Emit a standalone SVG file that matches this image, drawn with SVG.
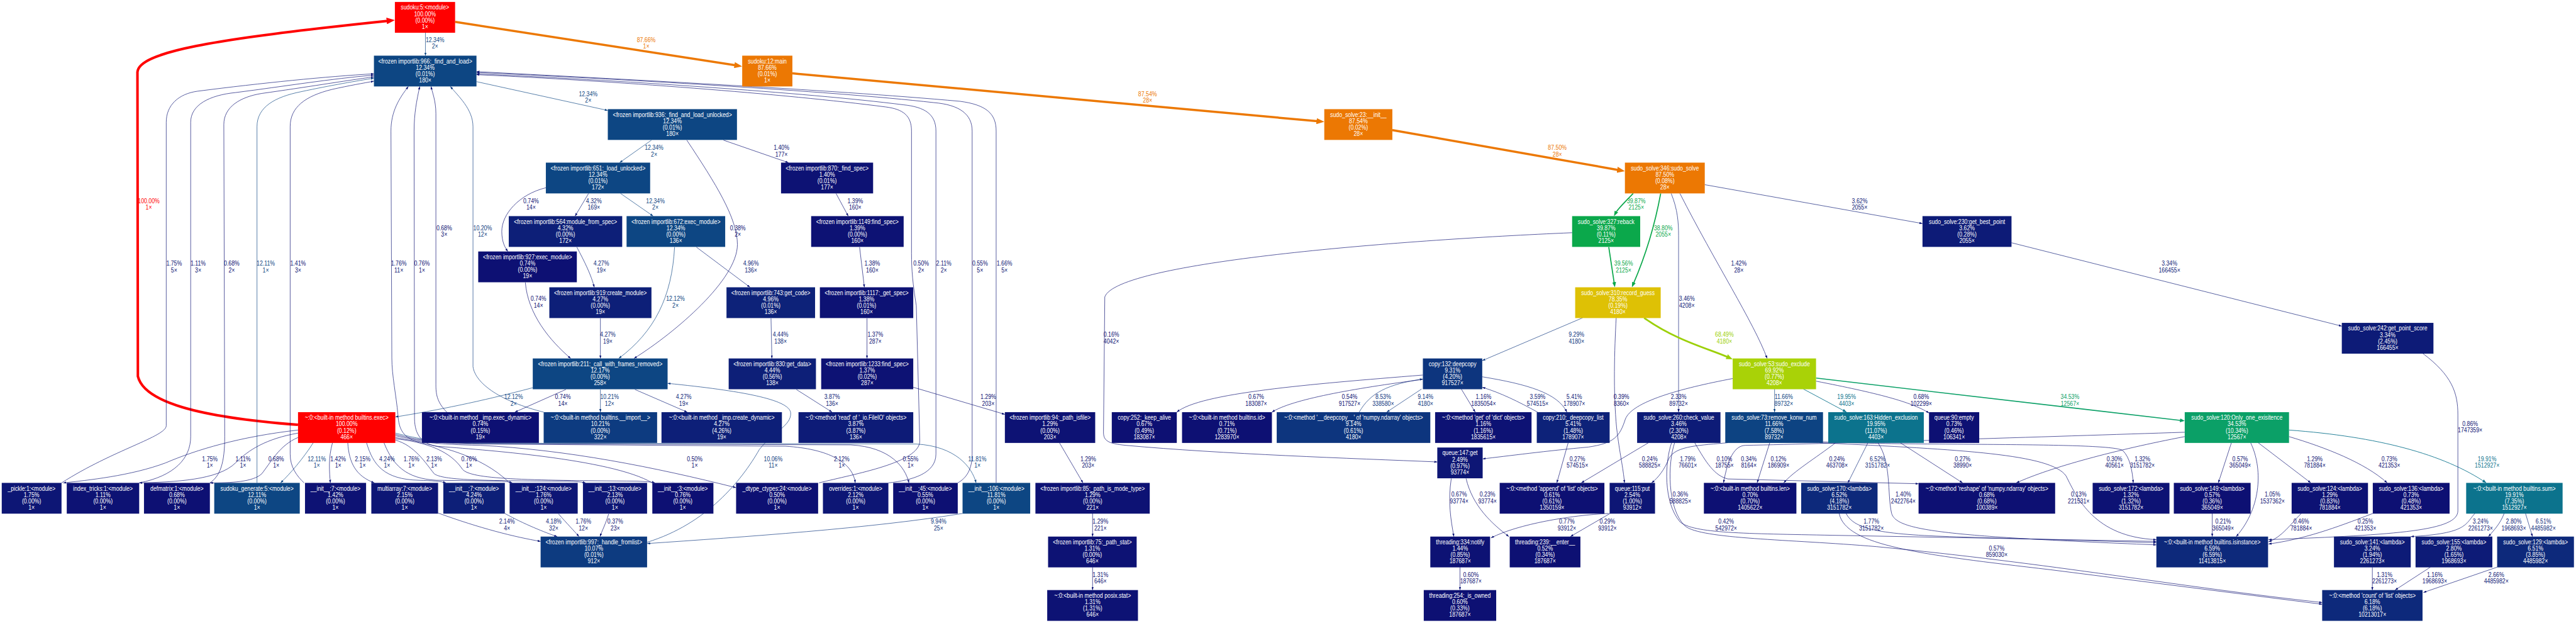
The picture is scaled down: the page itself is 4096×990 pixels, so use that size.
<svg xmlns="http://www.w3.org/2000/svg" width="4096" height="990" viewBox="0 0 4096 990">
<style>
text{font-family:"Liberation Sans",Arial,Helvetica,sans-serif;font-size:15.5px;text-anchor:middle;transform-box:fill-box;transform-origin:50% 50%;transform:scaleX(0.815)}
.n text{fill:#ffffff}
.f0{fill:#0d1073}.f1{fill:#0d1274}.f2{fill:#0d1675}.f3{fill:#0d1b77}.f4{fill:#0d1f78}.f5{fill:#0d2279}.f6{fill:#0d297b}.f9{fill:#0d357e}.f10{fill:#0d3b80}.f11{fill:#0d4382}.f12{fill:#0d4683}.f20{fill:#0c738d}.f34{fill:#0ba067}.f39{fill:#0ba84b}.f69{fill:#a9d207}.f78{fill:#dec105}.f87{fill:#ec7803}.f100{fill:#ff0000}
.e path{fill:none;stroke-width:1;marker-end:url(#md)}
.x0 path{stroke:#0d1073}.x0 text{fill:#0d1073}
.x1 path{stroke:#0d1274}.x1 text{fill:#0d1274}
.x2 path{stroke:#0d1675}.x2 text{fill:#0d1675}
.x3 path{stroke:#0d1b77}.x3 text{fill:#0d1b77}
.x4 path{stroke:#0d1f78}.x4 text{fill:#0d1f78}
.x5 path{stroke:#0d2279}.x5 text{fill:#0d2279}
.x6 path{stroke:#0d297b}.x6 text{fill:#0d297b}
.x9 path{stroke:#0d357e;marker-end:url(#m9)}.x9 text{fill:#0d357e}
.x10 path{stroke:#0d3b80;marker-end:url(#m9)}.x10 text{fill:#0d3b80}
.x11 path{stroke:#0d4382;marker-end:url(#m12)}.x11 text{fill:#0d4382}
.x12 path{stroke:#0d4683;marker-end:url(#m12)}.x12 text{fill:#0d4683}
.x20 path{stroke:#0c738d;stroke-width:1.3;marker-end:url(#m20)}.x20 text{fill:#0c738d}
.x34 path{stroke:#0ba067;stroke-width:2.2;marker-end:url(#m34)}.x34 text{fill:#0ba067}
.x39 path{stroke:#0ba84b;stroke-width:2.5;marker-end:url(#m39)}.x39 text{fill:#0ba84b}
.x68 path{stroke:#9cd007;stroke-width:4;marker-end:url(#m68)}.x68 text{fill:#9cd007}
.x87 path{stroke:#ec7803;stroke-width:5;marker-end:url(#m87)}.x87 text{fill:#ec7803}
.x100 path{stroke:#ff0000;stroke-width:5.8;marker-end:url(#m100)}.x100 text{fill:#ff0000}
</style>
<defs>
<marker id="md" viewBox="0 0 10 10" refX="10" refY="5" markerUnits="userSpaceOnUse" markerWidth="7" markerHeight="5" orient="auto" preserveAspectRatio="none"><path d="M0,0L10,5L0,10z" fill="#0d1575"/></marker>
<marker id="m9" viewBox="0 0 10 10" refX="10" refY="5" markerUnits="userSpaceOnUse" markerWidth="7" markerHeight="5" orient="auto" preserveAspectRatio="none"><path d="M0,0L10,5L0,10z" fill="#0d387f"/></marker>
<marker id="m12" viewBox="0 0 10 10" refX="10" refY="5" markerUnits="userSpaceOnUse" markerWidth="7" markerHeight="5" orient="auto" preserveAspectRatio="none"><path d="M0,0L10,5L0,10z" fill="#0d4683"/></marker>
<marker id="m20" viewBox="0 0 10 10" refX="10" refY="5" markerUnits="userSpaceOnUse" markerWidth="9" markerHeight="7" orient="auto" preserveAspectRatio="none"><path d="M0,0L10,5L0,10z" fill="#0c738d"/></marker>
<marker id="m34" viewBox="0 0 10 10" refX="3" refY="5" markerUnits="userSpaceOnUse" markerWidth="11" markerHeight="9" orient="auto" preserveAspectRatio="none"><path d="M0,0L10,5L0,10z" fill="#0ba067"/></marker>
<marker id="m39" viewBox="0 0 10 10" refX="3" refY="5" markerUnits="userSpaceOnUse" markerWidth="12" markerHeight="9" orient="auto" preserveAspectRatio="none"><path d="M0,0L10,5L0,10z" fill="#0ba84b"/></marker>
<marker id="m68" viewBox="0 0 10 10" refX="3" refY="5" markerUnits="userSpaceOnUse" markerWidth="15" markerHeight="12" orient="auto" preserveAspectRatio="none"><path d="M0,0L10,5L0,10z" fill="#9cd007"/></marker>
<marker id="m87" viewBox="0 0 10 10" refX="3" refY="5" markerUnits="userSpaceOnUse" markerWidth="18" markerHeight="14" orient="auto" preserveAspectRatio="none"><path d="M0,0L10,5L0,10z" fill="#ec7803"/></marker>
<marker id="m100" viewBox="0 0 10 10" refX="3" refY="5" markerUnits="userSpaceOnUse" markerWidth="19" markerHeight="15" orient="auto" preserveAspectRatio="none"><path d="M0,0L10,5L0,10z" fill="#ff0000"/></marker>
</defs>
<rect width="4096" height="990" fill="#ffffff"/>
<g transform="scale(0.6938)">
<g id="edges" class="e">
<g class="x12"><path d="M975,75 L975,127.5"/><text x="997" y="96.5">12.34%<tspan x="997" dy="15">2×</tspan></text></g>
<g class="x87"><path d="M1043,50 L1688.5,150"/><text x="1481" y="96.5">87.66%<tspan x="1481" dy="15">1×</tspan></text></g>
<g class="x87"><path d="M1816,168 L3022.5,277.9"/><text x="2630" y="220.5">87.54%<tspan x="2630" dy="15">28×</tspan></text></g>
<g class="x87"><path d="M3191,298 L3711.6,389.8"/><text x="3569" y="343.5">87.50%<tspan x="3569" dy="15">28×</tspan></text></g>
<g class="x39"><path d="M3743,443 C3725,462 3708,478 3702.9,487.6"/><text x="3750" y="465.5">39.87%<tspan x="3750" dy="15">2125×</tspan></text></g>
<g class="x39"><path d="M3806,443 C3790,530 3765,600 3743.3,650.3"/><text x="3812" y="527.5">38.80%<tspan x="3812" dy="15">2055×</tspan></text></g>
<g class="x39"><path d="M3687,566 L3699.7,649.7"/><text x="3721" y="608.5">39.56%<tspan x="3721" dy="15">2125×</tspan></text></g>
<g class="x3"><path d="M3830,443 C3845,480 3847,510 3847,540 L3847,944"/><text x="3866" y="689.5">3.46%<tspan x="3866" dy="15">4208×</tspan></text></g>
<g class="x3"><path d="M3907,423 L4406,512"/><text x="4262" y="465.5">3.62%<tspan x="4262" dy="15">2055×</tspan></text></g>
<g class="x1"><path d="M3850,443 C3930,600 4020,740 4050,821"/><text x="3985" y="608.5">1.42%<tspan x="3985" dy="15">28×</tspan></text></g>
<g class="x3"><path d="M4610,556 L5367,747"/><text x="4972" y="608.5">3.34%<tspan x="4972" dy="15">166455×</tspan></text></g>
<g class="x68"><path d="M3768,728 C3840,780 3920,800 3961.4,818.7"/><text x="3952" y="771.5">68.49%<tspan x="3952" dy="15">4180×</tspan></text></g>
<g class="x9"><path d="M3627,728 L3397,826"/><text x="3613" y="771.5">9.29%<tspan x="3613" dy="15">4180×</tspan></text></g>
<g class="x0"><path d="M3704,728 C3700,800 3697,900 3705,980 C3712,1040 3720,1070 3723,1106"/><text x="3716" y="914.5">0.39%<tspan x="3716" dy="15">8360×</tspan></text></g>
<g class="x2"><path d="M3971,867 C3850,890 3740,920 3725,960 C3712,1000 3700,1015 3640,1024 C3550,1032 3450,1045 3398,1051"/><text x="3847" y="914.5">2.33%<tspan x="3847" dy="15">89732×</tspan></text></g>
<g class="x0"><path d="M3603,533 C3200,550 2560,600 2532,680 L2529,990 C2529,1010 2540,1016 2580,1020 C2800,1040 3100,1050 3294,1058"/><text x="2547" y="771.5">0.16%<tspan x="2547" dy="15">4042×</tspan></text></g>
<g class="x0"><path d="M3778,1014 L3624,1106"/><text x="3781" y="1056.5">0.24%<tspan x="3781" dy="15">588825×</tspan></text></g>
<g class="x0"><path d="M3831,1014 C3815,1060 3812,1150 3850,1195 C3880,1222 4000,1222 4200,1226 L4942,1240"/><text x="3851" y="1137.5">0.36%<tspan x="3851" dy="15">588825×</tspan></text></g>
<g class="x0"><path d="M3838,1014 C3822,1060 3820,1165 3862,1205 C3900,1235 4100,1235 4300,1252 C4700,1290 5000,1345 5322,1380"/><text x="3956" y="1199.5">0.42%<tspan x="3956" dy="15">542972×</tspan></text></g>
<g class="x0"><path d="M3884,1014 C3910,1060 3930,1090 3960,1097 L4397,1108"/><text x="3952" y="1056.5">0.10%<tspan x="3952" dy="15">18755×</tspan></text></g>
<g class="x2"><path d="M3960,1014 C3900,1020 3840,1020 3825,1050 C3815,1075 3800,1095 3785,1106"/><text x="3868" y="1056.5">1.79%<tspan x="3868" dy="15">76601×</tspan></text></g>
<g class="x0"><path d="M5007,990 C4700,1000 4200,1016 4000,1020 C3975,1021 3960,1050 3950,1106"/><text x="4008" y="1056.5">0.34%<tspan x="4008" dy="15">8164×</tspan></text></g>
<g class="x0"><path d="M4056,1014 L4027,1106"/><text x="4076" y="1056.5">0.12%<tspan x="4076" dy="15">186909×</tspan></text></g>
<g class="x0"><path d="M4207,1014 C4160,1050 4110,1080 4088,1106"/><text x="4210" y="1056.5">0.24%<tspan x="4210" dy="15">463708×</tspan></text></g>
<g class="x6"><path d="M4281,1014 L4235,1106"/><text x="4303" y="1056.5">6.52%<tspan x="4303" dy="15">3151782×</tspan></text></g>
<g class="x0"><path d="M4355,1014 L4498,1106"/><text x="4498" y="1056.5">0.27%<tspan x="4498" dy="15">38990×</tspan></text></g>
<g class="x0"><path d="M5007,1000 C4850,1030 4700,1070 4621,1106"/><text x="4846" y="1056.5">0.30%<tspan x="4846" dy="15">40561×</tspan></text></g>
<g class="x1"><path d="M4178,1012 C4400,1022 4840,1012 4865,1032 C4882,1048 4887,1080 4889,1106"/><text x="4910" y="1056.5">1.32%<tspan x="4910" dy="15">3151782×</tspan></text></g>
<g class="x1"><path d="M4304,1014 C4335,1060 4325,1130 4335,1175 C4345,1215 4450,1228 4942,1248"/><text x="4362" y="1137.5">1.40%<tspan x="4362" dy="15">2422764×</tspan></text></g>
<g class="x0"><path d="M4170,1014 C4500,1030 4700,1040 4735,1090 C4760,1140 4800,1230 4942,1236"/><text x="4764" y="1137.5">0.13%<tspan x="4764" dy="15">221531×</tspan></text></g>
<g class="x2"><path d="M4231,1176 C4250,1215 4320,1225 4500,1230 L4942,1243"/><text x="4289" y="1199.5">1.77%<tspan x="4289" dy="15">3151782×</tspan></text></g>
<g class="x0"><path d="M4215,1176 C4230,1250 4400,1270 4700,1305 L5322,1384"/><text x="4576" y="1260.5">0.57%<tspan x="4576" dy="15">859030×</tspan></text></g>
<g class="x0"><path d="M5114,1014 L5084,1106"/><text x="5134" y="1056.5">0.57%<tspan x="5134" dy="15">365049×</tspan></text></g>
<g class="x1"><path d="M5158,1014 C5185,1070 5185,1160 5125,1229"/><text x="5208" y="1137.5">1.05%<tspan x="5208" dy="15">1537362×</tspan></text></g>
<g class="x1"><path d="M5174,1013 L5296,1106"/><text x="5305" y="1056.5">1.29%<tspan x="5305" dy="15">781884×</tspan></text></g>
<g class="x0"><path d="M5246,1000 C5330,1025 5420,1060 5471,1106"/><text x="5476" y="1056.5">0.73%<tspan x="5476" dy="15">421353×</tspan></text></g>
<g class="x20"><path d="M5246,985 C5450,1000 5600,1040 5698,1106"/><text x="5700" y="1056.5">19.91%<tspan x="5700" dy="15">1512927×</tspan></text></g>
<g class="x34"><path d="M4162,866 L4999.4,963.1"/><text x="4744" y="914.5">34.53%<tspan x="4744" dy="15">12567×</tspan></text></g>
<g class="x11"><path d="M4067,891 L4067,944"/><text x="4088" y="914.5">11.66%<tspan x="4088" dy="15">89732×</tspan></text></g>
<g class="x20"><path d="M4133,891 L4232,944"/><text x="4232" y="914.5">19.95%<tspan x="4232" dy="15">4403×</tspan></text></g>
<g class="x0"><path d="M4162,873 C4300,900 4380,920 4421,946"/><text x="4403" y="914.5">0.68%<tspan x="4403" dy="15">102299×</tspan></text></g>
<g class="x0"><path d="M5070,1176 L5070,1229"/><text x="5095" y="1199.5">0.21%<tspan x="5095" dy="15">365049×</tspan></text></g>
<g class="x0"><path d="M5274,1176 C5250,1200 5230,1230 5199,1241"/><text x="5274" y="1199.5">0.46%<tspan x="5274" dy="15">781884×</tspan></text></g>
<g class="x0"><path d="M5438,1176 C5350,1210 5280,1235 5199,1246"/><text x="5421" y="1199.5">0.25%<tspan x="5421" dy="15">421353×</tspan></text></g>
<g class="x1"><path d="M5552,809 C5620,860 5633,900 5633,950 L5633,1170 C5633,1215 5500,1225 5199,1236"/><text x="5661" y="975.5">0.86%<tspan x="5661" dy="15">1747359×</tspan></text></g>
<g class="x3"><path d="M5672,1176 C5650,1200 5655,1222 5525,1229"/><text x="5685" y="1199.5">3.24%<tspan x="5685" dy="15">2261273×</tspan></text></g>
<g class="x3"><path d="M5739,1176 C5730,1200 5715,1215 5703,1229"/><text x="5761" y="1199.5">2.80%<tspan x="5761" dy="15">1968693×</tspan></text></g>
<g class="x6"><path d="M5788,1176 L5804,1229"/><text x="5829" y="1199.5">6.51%<tspan x="5829" dy="15">4485982×</tspan></text></g>
<g class="x1"><path d="M5437,1299 L5437,1351.5"/><text x="5465" y="1321.5">1.31%<tspan x="5465" dy="15">2261273×</tspan></text></g>
<g class="x1"><path d="M5570,1299 L5489,1351.5"/><text x="5580" y="1321.5">1.16%<tspan x="5580" dy="15">1968693×</tspan></text></g>
<g class="x2"><path d="M5723,1299 L5554,1357"/><text x="5721" y="1321.5">2.66%<tspan x="5721" dy="15">4485982×</tspan></text></g>
<g class="x9"><path d="M3258,891 L3178,944"/><text x="3267" y="914.5">9.14%<tspan x="3267" dy="15">4180×</tspan></text></g>
<g class="x9"><path d="M3115,944 C3140,900 3180,880 3261,868"/><text x="3170" y="914.5">8.53%<tspan x="3170" dy="15">338580×</tspan></text></g>
<g class="x0"><path d="M3261,859 C3000,880 2750,900 2697,944"/><text x="2879" y="914.5">0.67%<tspan x="2879" dy="15">183087×</tspan></text></g>
<g class="x0"><path d="M3261,869 C3100,890 2960,915 2915,944"/><text x="3093" y="914.5">0.54%<tspan x="3093" dy="15">917527×</tspan></text></g>
<g class="x1"><path d="M3349,891 L3381,944"/><text x="3400" y="914.5">1.16%<tspan x="3400" dy="15">1835054×</tspan></text></g>
<g class="x5"><path d="M3397,863 C3500,880 3570,900 3591,944"/><text x="3608" y="914.5">5.41%<tspan x="3608" dy="15">178907×</tspan></text></g>
<g class="x3"><path d="M3524,944 C3480,920 3440,900 3397,887"/><text x="3524" y="914.5">3.59%<tspan x="3524" dy="15">574515×</tspan></text></g>
<g class="x0"><path d="M3594,1014 L3568,1106"/><text x="3615" y="1056.5">0.27%<tspan x="3615" dy="15">574515×</tspan></text></g>
<g class="x0"><path d="M3326,1096 C3318,1150 3325,1190 3332,1229"/><text x="3344" y="1137.5">0.67%<tspan x="3344" dy="15">93774×</tspan></text></g>
<g class="x0"><path d="M3360,1096 C3375,1160 3420,1200 3458,1229"/><text x="3409" y="1137.5">0.23%<tspan x="3409" dy="15">93774×</tspan></text></g>
<g class="x0"><path d="M3687,1176 C3600,1180 3480,1200 3417,1232"/><text x="3591" y="1199.5">0.77%<tspan x="3591" dy="15">93912×</tspan></text></g>
<g class="x0"><path d="M3690,1176 L3599,1229"/><text x="3684" y="1199.5">0.29%<tspan x="3684" dy="15">93912×</tspan></text></g>
<g class="x0"><path d="M3346,1299 L3346,1351.5"/><text x="3371" y="1321.5">0.60%<tspan x="3371" dy="15">187687×</tspan></text></g>
<g class="x12"><path d="M1092,187 L1393,253"/><text x="1348" y="220.5">12.34%<tspan x="1348" dy="15">2×</tspan></text></g>
<g class="x12"><path d="M1493,321 L1420,372.5"/><text x="1499" y="343.5">12.34%<tspan x="1499" dy="15">2×</tspan></text></g>
<g class="x1"><path d="M1658,321 L1807,372.5"/><text x="1791" y="343.5">1.40%<tspan x="1791" dy="15">177×</tspan></text></g>
<g class="x0"><path d="M1574,321 C1640,420 1690,500 1690,560 C1690,640 1550,760 1453,821"/><text x="1691" y="527.5">0.38%<tspan x="1691" dy="15">2×</tspan></text></g>
<g class="x0"><path d="M1251,430 C1190,445 1150,490 1150,530 C1150,555 1158,568 1164,576"/><text x="1217" y="465.5">0.74%<tspan x="1217" dy="15">14×</tspan></text></g>
<g class="x4"><path d="M1349,443 L1318,495"/><text x="1361" y="465.5">4.32%<tspan x="1361" dy="15">169×</tspan></text></g>
<g class="x12"><path d="M1422,443 L1497,495"/><text x="1502" y="465.5">12.34%<tspan x="1502" dy="15">2×</tspan></text></g>
<g class="x1"><path d="M1916,443 L1944,495"/><text x="1960" y="465.5">1.39%<tspan x="1960" dy="15">160×</tspan></text></g>
<g class="x4"><path d="M1322,566 C1340,600 1355,630 1362,658"/><text x="1378" y="608.5">4.27%<tspan x="1378" dy="15">19×</tspan></text></g>
<g class="x5"><path d="M1596,566 L1719,658"/><text x="1721" y="608.5">4.96%<tspan x="1721" dy="15">136×</tspan></text></g>
<g class="x12"><path d="M1546,566 C1540,680 1500,760 1418,821"/><text x="1548" y="689.5">12.12%<tspan x="1548" dy="15">2×</tspan></text></g>
<g class="x0"><path d="M1204,647 C1210,720 1260,780 1308,821"/><text x="1234" y="689.5">0.74%<tspan x="1234" dy="15">14×</tspan></text></g>
<g class="x4"><path d="M1376,729 L1376,821"/><text x="1393" y="771.5">4.27%<tspan x="1393" dy="15">19×</tspan></text></g>
<g class="x1"><path d="M1970,566 L1981,658"/><text x="1999" y="608.5">1.38%<tspan x="1999" dy="15">160×</tspan></text></g>
<g class="x4"><path d="M1767,729 L1769,821"/><text x="1789" y="771.5">4.44%<tspan x="1789" dy="15">138×</tspan></text></g>
<g class="x1"><path d="M1987,729 L1987,821"/><text x="2006" y="771.5">1.37%<tspan x="2006" dy="15">287×</tspan></text></g>
<g class="x12"><path d="M1221,888 C1100,920 1000,940 906,955"/><text x="1177" y="914.5">12.12%<tspan x="1177" dy="15">2×</tspan></text></g>
<g class="x0"><path d="M1297,892 L1180,944"/><text x="1290" y="914.5">0.74%<tspan x="1290" dy="15">14×</tspan></text></g>
<g class="x10"><path d="M1376,892 L1376,944"/><text x="1397" y="914.5">10.21%<tspan x="1397" dy="15">12×</tspan></text></g>
<g class="x4"><path d="M1455,892 L1575,944"/><text x="1567" y="914.5">4.27%<tspan x="1567" dy="15">19×</tspan></text></g>
<g class="x3"><path d="M1825,892 L1907,944"/><text x="1907" y="914.5">3.87%<tspan x="1907" dy="15">136×</tspan></text></g>
<g class="x1"><path d="M2093,887 L2303,949"/><text x="2265" y="914.5">1.29%<tspan x="2265" dy="15">203×</tspan></text></g>
<g class="x1"><path d="M2428,1014 L2482,1106"/><text x="2494" y="1056.5">1.29%<tspan x="2494" dy="15">203×</tspan></text></g>
<g class="x1"><path d="M2504,1176 L2504,1229"/><text x="2522" y="1199.5">1.29%<tspan x="2522" dy="15">221×</tspan></text></g>
<g class="x1"><path d="M2504,1299 L2504,1351.5"/><text x="2522" y="1321.5">1.31%<tspan x="2522" dy="15">646×</tspan></text></g>
<g class="x9"><path d="M2206,1176 C2000,1210 1700,1230 1483,1245"/><text x="2151" y="1199.5">9.94%<tspan x="2151" dy="15">25×</tspan></text></g>
<g class="x10"><path d="M1483,1242 C1620,1200 1700,1100 1740,1030 C1770,990 1815,975 1812,945 C1808,915 1700,895 1530,878"/><text x="1772" y="1056.5">10.06%<tspan x="1772" dy="15">11×</tspan></text></g>
<g class="x100"><path d="M683,973 C450,955 330,920 316,862 L315,165 C318,120 480,90 891.8,47.4"/><text x="341" y="465.5">100.00%<tspan x="341" dy="15">1×</tspan></text></g>
<g class="x10"><path d="M1246,944 C1150,920 1090,880 1084,840 L1084,290 C1084,250 1050,220 1032,198"/><text x="1106" y="527.5">10.20%<tspan x="1106" dy="15">12×</tspan></text></g>
<g class="x0"><path d="M1024,944 C1000,920 999,900 999,880 L999,260 C999,230 990,210 988,198"/><text x="1018" y="527.5">0.68%<tspan x="1018" dy="15">3×</tspan></text></g>
<g class="x2"><path d="M141,1106 C260,1030 381,1000 381,975 L381,280 C381,240 410,215 452,209 C600,190 750,175 857,169"/><text x="399" y="608.5">1.75%<tspan x="399" dy="15">5×</tspan></text></g>
<g class="x1"><path d="M319,1106 C400,1090 437,1050 437,1000 L437,280 C437,240 480,218 540,212 C650,198 760,180 857,172"/><text x="454" y="608.5">1.11%<tspan x="454" dy="15">3×</tspan></text></g>
<g class="x0"><path d="M481,1106 C505,1090 515,1060 515,1000 L513,285 C513,245 550,222 600,214 C700,200 790,185 857,176"/><text x="531" y="608.5">0.68%<tspan x="531" dy="15">2×</tspan></text></g>
<g class="x12"><path d="M589,1106 L589,290 C589,245 630,222 690,210 C760,195 820,185 857,179"/><text x="609" y="608.5">12.11%<tspan x="609" dy="15">1×</tspan></text></g>
<g class="x1"><path d="M697,1106 C680,1090 665,1070 665,1040 L665,290 C665,245 700,220 760,205 C800,196 835,190 857,186"/><text x="683" y="608.5">1.41%<tspan x="683" dy="15">3×</tspan></text></g>
<g class="x2"><path d="M1168,1106 C1100,1040 1000,1022 960,1013 C925,1003 914,985 912,950 C908,905 898,860 898,820 L896,300 C896,255 915,225 936,198"/><text x="914" y="608.5">1.76%<tspan x="914" dy="15">11×</tspan></text></g>
<g class="x0"><path d="M1495,1106 C1400,1050 1100,1030 1000,1022 C965,1015 951,995 950,960 L949,300 C949,260 955,230 962,198"/><text x="967" y="608.5">0.76%<tspan x="967" dy="15">1×</tspan></text></g>
<g class="x0"><path d="M1877,1106 C1960,1085 2108,1060 2108,1010 L2100,700 C2092,650 2089,620 2089,580 L2089,300 C2089,265 2070,250 2030,245 C1800,215 1400,185 1092,171"/><text x="2111" y="608.5">0.50%<tspan x="2111" dy="15">2×</tspan></text></g>
<g class="x2"><path d="M2036,1106 C2090,1100 2145,1085 2145,1040 L2145,300 C2145,262 2120,245 2070,240 C1850,212 1400,183 1092,169"/><text x="2163" y="608.5">2.11%<tspan x="2163" dy="15">2×</tspan></text></g>
<g class="x0"><path d="M2195,1106 C2215,1095 2228,1075 2228,1040 L2228,300 C2228,262 2200,240 2140,235 C1900,208 1400,180 1092,166"/><text x="2246" y="608.5">0.55%<tspan x="2246" dy="15">5×</tspan></text></g>
<g class="x2"><path d="M2283,1106 L2283,300 C2283,260 2260,240 2200,232 C1900,205 1400,180 1092,164"/><text x="2302" y="608.5">1.66%<tspan x="2302" dy="15">5×</tspan></text></g>
<g class="x2"><path d="M683,985 C550,1000 450,1030 380,1060 C300,1090 200,1100 145,1106"/><text x="481" y="1056.5">1.75%<tspan x="481" dy="15">1×</tspan></text></g>
<g class="x1"><path d="M683,992 C610,1005 570,1030 540,1060 C500,1100 400,1104 319,1106"/><text x="557" y="1056.5">1.11%<tspan x="557" dy="15">1×</tspan></text></g>
<g class="x0"><path d="M683,1002 C640,1020 620,1060 600,1085 C580,1104 530,1106 481,1106"/><text x="633" y="1056.5">0.68%<tspan x="633" dy="15">1×</tspan></text></g>
<g class="x12"><path d="M718,1014 C695,1050 665,1085 643,1106"/><text x="726" y="1056.5">12.11%<tspan x="726" dy="15">1×</tspan></text></g>
<g class="x1"><path d="M762,1014 C752,1050 755,1080 757,1106"/><text x="775" y="1056.5">1.42%<tspan x="775" dy="15">1×</tspan></text></g>
<g class="x2"><path d="M797,1014 C800,1060 815,1090 858,1106"/><text x="831" y="1056.5">2.15%<tspan x="831" dy="15">1×</tspan></text></g>
<g class="x4"><path d="M840,1014 C855,1065 880,1098 960,1100 C990,1101 1010,1102 1022,1106"/><text x="887" y="1056.5">4.24%<tspan x="887" dy="15">1×</tspan></text></g>
<g class="x2"><path d="M880,1014 C900,1065 930,1096 1000,1100 L1150,1102 C1160,1103 1168,1104 1174,1106"/><text x="943" y="1056.5">1.76%<tspan x="943" dy="15">1×</tspan></text></g>
<g class="x2"><path d="M906,1008 C950,1020 975,1060 995,1085 C1015,1100 1100,1101 1300,1102 C1320,1103 1335,1104 1342,1106"/><text x="995" y="1056.5">2.13%<tspan x="995" dy="15">1×</tspan></text></g>
<g class="x0"><path d="M906,1005 C1000,1015 1040,1045 1060,1075 C1080,1098 1200,1100 1460,1102 C1480,1103 1495,1104 1501,1106"/><text x="1075" y="1056.5">0.76%<tspan x="1075" dy="15">1×</tspan></text></g>
<g class="x0"><path d="M906,1002 C960,1012 1000,1018 1100,1020 C1300,1030 1500,1070 1687,1117"/><text x="1592" y="1056.5">0.50%<tspan x="1592" dy="15">1×</tspan></text></g>
<g class="x2"><path d="M906,998 C960,1010 1000,1016 1100,1017 L1800,1022 C1900,1028 1955,1060 1960,1106"/><text x="1929" y="1056.5">2.12%<tspan x="1929" dy="15">1×</tspan></text></g>
<g class="x0"><path d="M906,995 C960,1008 1000,1015 1100,1016 L1950,1019 C2040,1024 2075,1070 2083,1106"/><text x="2087" y="1056.5">0.55%<tspan x="2087" dy="15">1×</tspan></text></g>
<g class="x12"><path d="M906,992 C960,1005 1000,1014 1100,1015 L2100,1017 C2190,1022 2228,1070 2237,1106"/><text x="2240" y="1056.5">11.81%<tspan x="2240" dy="15">1×</tspan></text></g>
<g class="x2"><path d="M1004,1175 C1100,1210 1180,1230 1239,1240"/><text x="1162" y="1199.5">2.14%<tspan x="1162" dy="15">4×</tspan></text></g>
<g class="x4"><path d="M1157,1176 C1200,1200 1250,1220 1277,1229"/><text x="1269" y="1199.5">4.18%<tspan x="1269" dy="15">32×</tspan></text></g>
<g class="x2"><path d="M1280,1177 C1300,1200 1315,1215 1327,1229"/><text x="1337" y="1199.5">1.76%<tspan x="1337" dy="15">12×</tspan></text></g>
<g class="x0"><path d="M1395,1177 C1388,1200 1380,1215 1375,1229"/><text x="1410" y="1199.5">0.37%<tspan x="1410" dy="15">23×</tspan></text></g>
</g>
<g id="nodes">
<g id="n_sudoku5" class="n"><rect x="905" y="4.5" width="138" height="70.5" class="f100"/><text x="974" y="22.3">sudoku:5:&lt;module&gt;<tspan x="974" dy="14.6">100.00%</tspan><tspan x="974" dy="14.6">(0.00%)</tspan><tspan x="974" dy="14.6">1×</tspan></text></g>
<g id="n_main" class="n"><rect x="1701" y="127.5" width="115" height="70.5" class="f87"/><text x="1758.5" y="145.3">sudoku:12:main<tspan x="1758.5" dy="14.6">87.66%</tspan><tspan x="1758.5" dy="14.6">(0.01%)</tspan><tspan x="1758.5" dy="14.6">1×</tspan></text></g>
<g id="n_966" class="n"><rect x="857" y="127.5" width="235" height="70.5" class="f12"/><text x="974.5" y="145.3">&lt;frozen importlib:966:_find_and_load&gt;<tspan x="974.5" dy="14.6">12.34%</tspan><tspan x="974.5" dy="14.6">(0.01%)</tspan><tspan x="974.5" dy="14.6">180×</tspan></text></g>
<g id="n_936" class="n"><rect x="1393" y="250" width="296" height="70.5" class="f12"/><text x="1541" y="267.8">&lt;frozen importlib:936:_find_and_load_unlocked&gt;<tspan x="1541" dy="14.6">12.34%</tspan><tspan x="1541" dy="14.6">(0.01%)</tspan><tspan x="1541" dy="14.6">180×</tspan></text></g>
<g id="n_init23" class="n"><rect x="3035" y="250" width="156" height="70.5" class="f87"/><text x="3113" y="267.8">sudo_solve:23:__init__<tspan x="3113" dy="14.6">87.54%</tspan><tspan x="3113" dy="14.6">(0.02%)</tspan><tspan x="3113" dy="14.6">28×</tspan></text></g>
<g id="n_651" class="n"><rect x="1251" y="372.5" width="239" height="70.5" class="f12"/><text x="1370.5" y="390.3">&lt;frozen importlib:651:_load_unlocked&gt;<tspan x="1370.5" dy="14.6">12.34%</tspan><tspan x="1370.5" dy="14.6">(0.01%)</tspan><tspan x="1370.5" dy="14.6">172×</tspan></text></g>
<g id="n_870" class="n"><rect x="1790" y="372.5" width="211" height="70.5" class="f1"/><text x="1895.5" y="390.3">&lt;frozen importlib:870:_find_spec&gt;<tspan x="1895.5" dy="14.6">1.40%</tspan><tspan x="1895.5" dy="14.6">(0.01%)</tspan><tspan x="1895.5" dy="14.6">177×</tspan></text></g>
<g id="n_sudosolve" class="n"><rect x="3724" y="372.5" width="183" height="70.5" class="f87"/><text x="3815.5" y="390.3">sudo_solve:346:sudo_solve<tspan x="3815.5" dy="14.6">87.50%</tspan><tspan x="3815.5" dy="14.6">(0.08%)</tspan><tspan x="3815.5" dy="14.6">28×</tspan></text></g>
<g id="n_564" class="n"><rect x="1166" y="495" width="260" height="70.5" class="f4"/><text x="1296" y="512.8">&lt;frozen importlib:564:module_from_spec&gt;<tspan x="1296" dy="14.6">4.32%</tspan><tspan x="1296" dy="14.6">(0.00%)</tspan><tspan x="1296" dy="14.6">172×</tspan></text></g>
<g id="n_672" class="n"><rect x="1436" y="495" width="226" height="70.5" class="f12"/><text x="1549" y="512.8">&lt;frozen importlib:672:exec_module&gt;<tspan x="1549" dy="14.6">12.34%</tspan><tspan x="1549" dy="14.6">(0.00%)</tspan><tspan x="1549" dy="14.6">136×</tspan></text></g>
<g id="n_1149" class="n"><rect x="1859" y="495" width="212" height="70.5" class="f1"/><text x="1965" y="512.8">&lt;frozen importlib:1149:find_spec&gt;<tspan x="1965" dy="14.6">1.39%</tspan><tspan x="1965" dy="14.6">(0.00%)</tspan><tspan x="1965" dy="14.6">160×</tspan></text></g>
<g id="n_reback" class="n"><rect x="3603" y="495" width="156" height="70.5" class="f39"/><text x="3681" y="512.8">sudo_solve:327:reback<tspan x="3681" dy="14.6">39.87%</tspan><tspan x="3681" dy="14.6">(0.11%)</tspan><tspan x="3681" dy="14.6">2125×</tspan></text></g>
<g id="n_bestpoint" class="n"><rect x="4406" y="495" width="204" height="70.5" class="f3"/><text x="4508" y="512.8">sudo_solve:230:get_best_point<tspan x="4508" dy="14.6">3.62%</tspan><tspan x="4508" dy="14.6">(0.28%)</tspan><tspan x="4508" dy="14.6">2055×</tspan></text></g>
<g id="n_927" class="n"><rect x="1096" y="576" width="226" height="70.5" class="f0"/><text x="1209" y="593.8">&lt;frozen importlib:927:exec_module&gt;<tspan x="1209" dy="14.6">0.74%</tspan><tspan x="1209" dy="14.6">(0.00%)</tspan><tspan x="1209" dy="14.6">19×</tspan></text></g>
<g id="n_919" class="n"><rect x="1259" y="658" width="234" height="70.5" class="f4"/><text x="1376" y="675.8">&lt;frozen importlib:919:create_module&gt;<tspan x="1376" dy="14.6">4.27%</tspan><tspan x="1376" dy="14.6">(0.00%)</tspan><tspan x="1376" dy="14.6">19×</tspan></text></g>
<g id="n_743" class="n"><rect x="1665" y="658" width="203" height="70.5" class="f5"/><text x="1766.5" y="675.8">&lt;frozen importlib:743:get_code&gt;<tspan x="1766.5" dy="14.6">4.96%</tspan><tspan x="1766.5" dy="14.6">(0.01%)</tspan><tspan x="1766.5" dy="14.6">136×</tspan></text></g>
<g id="n_1117" class="n"><rect x="1879" y="658" width="214" height="70.5" class="f1"/><text x="1986" y="675.8">&lt;frozen importlib:1117:_get_spec&gt;<tspan x="1986" dy="14.6">1.38%</tspan><tspan x="1986" dy="14.6">(0.01%)</tspan><tspan x="1986" dy="14.6">160×</tspan></text></g>
<g id="n_record" class="n"><rect x="3610" y="658" width="196" height="70.5" class="f78"/><text x="3708" y="675.8">sudo_solve:310:record_guess<tspan x="3708" dy="14.6">78.35%</tspan><tspan x="3708" dy="14.6">(0.19%)</tspan><tspan x="3708" dy="14.6">4180×</tspan></text></g>
<g id="n_pointscore" class="n"><rect x="5367" y="739.5" width="210" height="70.5" class="f3"/><text x="5472" y="757.3">sudo_solve:242:get_point_score<tspan x="5472" dy="14.6">3.34%</tspan><tspan x="5472" dy="14.6">(2.45%)</tspan><tspan x="5472" dy="14.6">166455×</tspan></text></g>
<g id="n_211" class="n"><rect x="1221" y="821" width="309" height="70.5" class="f12"/><text x="1375.5" y="838.8">&lt;frozen importlib:211:_call_with_frames_removed&gt;<tspan x="1375.5" dy="14.6">12.17%</tspan><tspan x="1375.5" dy="14.6">(0.00%)</tspan><tspan x="1375.5" dy="14.6">258×</tspan></text></g>
<g id="n_830" class="n"><rect x="1670" y="821" width="200" height="70.5" class="f4"/><text x="1770" y="838.8">&lt;frozen importlib:830:get_data&gt;<tspan x="1770" dy="14.6">4.44%</tspan><tspan x="1770" dy="14.6">(0.56%)</tspan><tspan x="1770" dy="14.6">138×</tspan></text></g>
<g id="n_1233" class="n"><rect x="1882" y="821" width="211" height="70.5" class="f1"/><text x="1987.5" y="838.8">&lt;frozen importlib:1233:find_spec&gt;<tspan x="1987.5" dy="14.6">1.37%</tspan><tspan x="1987.5" dy="14.6">(0.02%)</tspan><tspan x="1987.5" dy="14.6">287×</tspan></text></g>
<g id="n_deepcopy" class="n"><rect x="3261" y="821" width="136" height="70.5" class="f9"/><text x="3329" y="838.8">copy:132:deepcopy<tspan x="3329" dy="14.6">9.31%</tspan><tspan x="3329" dy="14.6">(4.20%)</tspan><tspan x="3329" dy="14.6">917527×</tspan></text></g>
<g id="n_exclude" class="n"><rect x="3971" y="821" width="191" height="70.5" class="f69"/><text x="4066.5" y="838.8">sudo_solve:53:sudo_exclude<tspan x="4066.5" dy="14.6">69.92%</tspan><tspan x="4066.5" dy="14.6">(0.77%)</tspan><tspan x="4066.5" dy="14.6">4208×</tspan></text></g>
<g id="n_exec" class="n"><rect x="683" y="944" width="223" height="70.5" class="f100"/><text x="794.5" y="961.8">~:0:&lt;built-in method builtins.exec&gt;<tspan x="794.5" dy="14.6">100.00%</tspan><tspan x="794.5" dy="14.6">(0.12%)</tspan><tspan x="794.5" dy="14.6">466×</tspan></text></g>
<g id="n_execdyn" class="n"><rect x="967" y="944" width="268" height="70.5" class="f0"/><text x="1101" y="961.8">~:0:&lt;built-in method _imp.exec_dynamic&gt;<tspan x="1101" dy="14.6">0.74%</tspan><tspan x="1101" dy="14.6">(0.15%)</tspan><tspan x="1101" dy="14.6">19×</tspan></text></g>
<g id="n_import" class="n"><rect x="1246" y="944" width="260" height="70.5" class="f10"/><text x="1376" y="961.8">~:0:&lt;built-in method builtins.__import__&gt;<tspan x="1376" dy="14.6">10.21%</tspan><tspan x="1376" dy="14.6">(0.00%)</tspan><tspan x="1376" dy="14.6">322×</tspan></text></g>
<g id="n_createdyn" class="n"><rect x="1516" y="944" width="276" height="70.5" class="f4"/><text x="1654" y="961.8">~:0:&lt;built-in method _imp.create_dynamic&gt;<tspan x="1654" dy="14.6">4.27%</tspan><tspan x="1654" dy="14.6">(4.26%)</tspan><tspan x="1654" dy="14.6">19×</tspan></text></g>
<g id="n_read" class="n"><rect x="1830" y="944" width="263" height="70.5" class="f3"/><text x="1961.5" y="961.8">~:0:&lt;method 'read' of '_io.FileIO' objects&gt;<tspan x="1961.5" dy="14.6">3.87%</tspan><tspan x="1961.5" dy="14.6">(3.87%)</tspan><tspan x="1961.5" dy="14.6">136×</tspan></text></g>
<g id="n_isfile" class="n"><rect x="2303" y="944" width="207" height="70.5" class="f1"/><text x="2406.5" y="961.8">&lt;frozen importlib:94:_path_isfile&gt;<tspan x="2406.5" dy="14.6">1.29%</tspan><tspan x="2406.5" dy="14.6">(0.00%)</tspan><tspan x="2406.5" dy="14.6">203×</tspan></text></g>
<g id="n_keepalive" class="n"><rect x="2548" y="944" width="149" height="70.5" class="f0"/><text x="2622.5" y="961.8">copy:252:_keep_alive<tspan x="2622.5" dy="14.6">0.67%</tspan><tspan x="2622.5" dy="14.6">(0.49%)</tspan><tspan x="2622.5" dy="14.6">183087×</tspan></text></g>
<g id="n_id" class="n"><rect x="2709" y="944" width="206" height="70.5" class="f0"/><text x="2812" y="961.8">~:0:&lt;built-in method builtins.id&gt;<tspan x="2812" dy="14.6">0.71%</tspan><tspan x="2812" dy="14.6">(0.71%)</tspan><tspan x="2812" dy="14.6">1283970×</tspan></text></g>
<g id="n_npdeepcopy" class="n"><rect x="2926" y="944" width="352" height="70.5" class="f9"/><text x="3102" y="961.8">~:0:&lt;method '__deepcopy__' of 'numpy.ndarray' objects&gt;<tspan x="3102" dy="14.6">9.14%</tspan><tspan x="3102" dy="14.6">(0.61%)</tspan><tspan x="3102" dy="14.6">4180×</tspan></text></g>
<g id="n_getdict" class="n"><rect x="3289" y="944" width="221" height="70.5" class="f1"/><text x="3399.5" y="961.8">~:0:&lt;method 'get' of 'dict' objects&gt;<tspan x="3399.5" dy="14.6">1.16%</tspan><tspan x="3399.5" dy="14.6">(1.16%)</tspan><tspan x="3399.5" dy="14.6">1835615×</tspan></text></g>
<g id="n_deepcopylist" class="n"><rect x="3522" y="944" width="167" height="70.5" class="f5"/><text x="3605.5" y="961.8">copy:210:_deepcopy_list<tspan x="3605.5" dy="14.6">5.41%</tspan><tspan x="3605.5" dy="14.6">(1.48%)</tspan><tspan x="3605.5" dy="14.6">178907×</tspan></text></g>
<g id="n_checkvalue" class="n"><rect x="3752" y="944" width="191" height="70.5" class="f3"/><text x="3847.5" y="961.8">sudo_solve:260:check_value<tspan x="3847.5" dy="14.6">3.46%</tspan><tspan x="3847.5" dy="14.6">(2.30%)</tspan><tspan x="3847.5" dy="14.6">4208×</tspan></text></g>
<g id="n_removeknown" class="n"><rect x="3954" y="944" width="224" height="70.5" class="f11"/><text x="4066" y="961.8">sudo_solve:73:remove_konw_num<tspan x="4066" dy="14.6">11.66%</tspan><tspan x="4066" dy="14.6">(7.58%)</tspan><tspan x="4066" dy="14.6">89732×</tspan></text></g>
<g id="n_hidden" class="n"><rect x="4190" y="944" width="219" height="70.5" class="f20"/><text x="4299.5" y="961.8">sudo_solve:163:Hidden_exclusion<tspan x="4299.5" dy="14.6">19.95%</tspan><tspan x="4299.5" dy="14.6">(11.07%)</tspan><tspan x="4299.5" dy="14.6">4403×</tspan></text></g>
<g id="n_empty" class="n"><rect x="4421" y="944" width="115" height="70.5" class="f0"/><text x="4478.5" y="961.8">queue:90:empty<tspan x="4478.5" dy="14.6">0.73%</tspan><tspan x="4478.5" dy="14.6">(0.46%)</tspan><tspan x="4478.5" dy="14.6">106341×</tspan></text></g>
<g id="n_onlyone" class="n"><rect x="5007" y="944" width="239" height="70.5" class="f34"/><text x="5126.5" y="961.8">sudo_solve:120:Only_one_exisitence<tspan x="5126.5" dy="14.6">34.53%</tspan><tspan x="5126.5" dy="14.6">(10.34%)</tspan><tspan x="5126.5" dy="14.6">12567×</tspan></text></g>
<g id="n_queueget" class="n"><rect x="3294" y="1025" width="104" height="70.5" class="f2"/><text x="3346" y="1042.8">queue:147:get<tspan x="3346" dy="14.6">2.49%</tspan><tspan x="3346" dy="14.6">(0.97%)</tspan><tspan x="3346" dy="14.6">93774×</tspan></text></g>
<g id="n_pickle" class="n"><rect x="4" y="1106" width="137" height="70.5" class="f2"/><text x="72.5" y="1123.8">_pickle:1:&lt;module&gt;<tspan x="72.5" dy="14.6">1.75%</tspan><tspan x="72.5" dy="14.6">(0.00%)</tspan><tspan x="72.5" dy="14.6">1×</tspan></text></g>
<g id="n_indextricks" class="n"><rect x="153" y="1106" width="166" height="70.5" class="f1"/><text x="236" y="1123.8">index_tricks:1:&lt;module&gt;<tspan x="236" dy="14.6">1.11%</tspan><tspan x="236" dy="14.6">(0.00%)</tspan><tspan x="236" dy="14.6">1×</tspan></text></g>
<g id="n_defmatrix" class="n"><rect x="330" y="1106" width="151" height="70.5" class="f0"/><text x="405.5" y="1123.8">defmatrix:1:&lt;module&gt;<tspan x="405.5" dy="14.6">0.68%</tspan><tspan x="405.5" dy="14.6">(0.00%)</tspan><tspan x="405.5" dy="14.6">1×</tspan></text></g>
<g id="n_sudokugen" class="n"><rect x="491" y="1106" width="196" height="70.5" class="f12"/><text x="589" y="1123.8">sudoku_generate:5:&lt;module&gt;<tspan x="589" dy="14.6">12.11%</tspan><tspan x="589" dy="14.6">(0.00%)</tspan><tspan x="589" dy="14.6">1×</tspan></text></g>
<g id="n_init7a" class="n"><rect x="699" y="1106" width="140" height="70.5" class="f1"/><text x="769" y="1123.8">__init__:7:&lt;module&gt;<tspan x="769" dy="14.6">1.42%</tspan><tspan x="769" dy="14.6">(0.00%)</tspan><tspan x="769" dy="14.6">1×</tspan></text></g>
<g id="n_multiarray" class="n"><rect x="851" y="1106" width="153" height="70.5" class="f2"/><text x="927.5" y="1123.8">multiarray:7:&lt;module&gt;<tspan x="927.5" dy="14.6">2.15%</tspan><tspan x="927.5" dy="14.6">(0.00%)</tspan><tspan x="927.5" dy="14.6">1×</tspan></text></g>
<g id="n_init7b" class="n"><rect x="1016" y="1106" width="141" height="70.5" class="f4"/><text x="1086.5" y="1123.8">__init__:7:&lt;module&gt;<tspan x="1086.5" dy="14.6">4.24%</tspan><tspan x="1086.5" dy="14.6">(0.00%)</tspan><tspan x="1086.5" dy="14.6">1×</tspan></text></g>
<g id="n_init124" class="n"><rect x="1168" y="1106" width="156" height="70.5" class="f2"/><text x="1246" y="1123.8">__init__:124:&lt;module&gt;<tspan x="1246" dy="14.6">1.76%</tspan><tspan x="1246" dy="14.6">(0.00%)</tspan><tspan x="1246" dy="14.6">1×</tspan></text></g>
<g id="n_init13" class="n"><rect x="1336" y="1106" width="147" height="70.5" class="f2"/><text x="1409.5" y="1123.8">__init__:13:&lt;module&gt;<tspan x="1409.5" dy="14.6">2.13%</tspan><tspan x="1409.5" dy="14.6">(0.00%)</tspan><tspan x="1409.5" dy="14.6">1×</tspan></text></g>
<g id="n_init3" class="n"><rect x="1495" y="1106" width="140" height="70.5" class="f0"/><text x="1565" y="1123.8">__init__:3:&lt;module&gt;<tspan x="1565" dy="14.6">0.76%</tspan><tspan x="1565" dy="14.6">(0.00%)</tspan><tspan x="1565" dy="14.6">1×</tspan></text></g>
<g id="n_dtype" class="n"><rect x="1687" y="1106" width="188" height="70.5" class="f0"/><text x="1781" y="1123.8">_dtype_ctypes:24:&lt;module&gt;<tspan x="1781" dy="14.6">0.50%</tspan><tspan x="1781" dy="14.6">(0.00%)</tspan><tspan x="1781" dy="14.6">1×</tspan></text></g>
<g id="n_overrides" class="n"><rect x="1886" y="1106" width="150" height="70.5" class="f2"/><text x="1961" y="1123.8">overrides:1:&lt;module&gt;<tspan x="1961" dy="14.6">2.12%</tspan><tspan x="1961" dy="14.6">(0.00%)</tspan><tspan x="1961" dy="14.6">1×</tspan></text></g>
<g id="n_init45" class="n"><rect x="2047" y="1106" width="148" height="70.5" class="f0"/><text x="2121" y="1123.8">__init__:45:&lt;module&gt;<tspan x="2121" dy="14.6">0.55%</tspan><tspan x="2121" dy="14.6">(0.00%)</tspan><tspan x="2121" dy="14.6">1×</tspan></text></g>
<g id="n_init106" class="n"><rect x="2206" y="1106" width="155" height="70.5" class="f12"/><text x="2283.5" y="1123.8">__init__:106:&lt;module&gt;<tspan x="2283.5" dy="14.6">11.81%</tspan><tspan x="2283.5" dy="14.6">(0.00%)</tspan><tspan x="2283.5" dy="14.6">1×</tspan></text></g>
<g id="n_modetype" class="n"><rect x="2373" y="1106" width="262" height="70.5" class="f1"/><text x="2504" y="1123.8">&lt;frozen importlib:85:_path_is_mode_type&gt;<tspan x="2504" dy="14.6">1.29%</tspan><tspan x="2504" dy="14.6">(0.00%)</tspan><tspan x="2504" dy="14.6">221×</tspan></text></g>
<g id="n_append" class="n"><rect x="3437" y="1106" width="240" height="70.5" class="f0"/><text x="3557" y="1123.8">~:0:&lt;method 'append' of 'list' objects&gt;<tspan x="3557" dy="14.6">0.61%</tspan><tspan x="3557" dy="14.6">(0.61%)</tspan><tspan x="3557" dy="14.6">1350159×</tspan></text></g>
<g id="n_put" class="n"><rect x="3689" y="1106" width="104" height="70.5" class="f2"/><text x="3741" y="1123.8">queue:115:put<tspan x="3741" dy="14.6">2.54%</tspan><tspan x="3741" dy="14.6">(1.00%)</tspan><tspan x="3741" dy="14.6">93912×</tspan></text></g>
<g id="n_len" class="n"><rect x="3905" y="1106" width="212" height="70.5" class="f0"/><text x="4011" y="1123.8">~:0:&lt;built-in method builtins.len&gt;<tspan x="4011" dy="14.6">0.70%</tspan><tspan x="4011" dy="14.6">(0.70%)</tspan><tspan x="4011" dy="14.6">1405622×</tspan></text></g>
<g id="n_l170" class="n"><rect x="4128" y="1106" width="175" height="70.5" class="f6"/><text x="4215.5" y="1123.8">sudo_solve:170:&lt;lambda&gt;<tspan x="4215.5" dy="14.6">6.52%</tspan><tspan x="4215.5" dy="14.6">(4.18%)</tspan><tspan x="4215.5" dy="14.6">3151782×</tspan></text></g>
<g id="n_reshape" class="n"><rect x="4397" y="1106" width="313" height="70.5" class="f0"/><text x="4553.5" y="1123.8">~:0:&lt;method 'reshape' of 'numpy.ndarray' objects&gt;<tspan x="4553.5" dy="14.6">0.68%</tspan><tspan x="4553.5" dy="14.6">(0.68%)</tspan><tspan x="4553.5" dy="14.6">100389×</tspan></text></g>
<g id="n_l172" class="n"><rect x="4796" y="1106" width="176" height="70.5" class="f1"/><text x="4884" y="1123.8">sudo_solve:172:&lt;lambda&gt;<tspan x="4884" dy="14.6">1.32%</tspan><tspan x="4884" dy="14.6">(1.32%)</tspan><tspan x="4884" dy="14.6">3151782×</tspan></text></g>
<g id="n_l149" class="n"><rect x="4982" y="1106" width="176" height="70.5" class="f0"/><text x="5070" y="1123.8">sudo_solve:149:&lt;lambda&gt;<tspan x="5070" dy="14.6">0.57%</tspan><tspan x="5070" dy="14.6">(0.36%)</tspan><tspan x="5070" dy="14.6">365049×</tspan></text></g>
<g id="n_l124" class="n"><rect x="5252" y="1106" width="175" height="70.5" class="f1"/><text x="5339.5" y="1123.8">sudo_solve:124:&lt;lambda&gt;<tspan x="5339.5" dy="14.6">1.29%</tspan><tspan x="5339.5" dy="14.6">(0.83%)</tspan><tspan x="5339.5" dy="14.6">781884×</tspan></text></g>
<g id="n_l136" class="n"><rect x="5438" y="1106" width="176" height="70.5" class="f0"/><text x="5526" y="1123.8">sudo_solve:136:&lt;lambda&gt;<tspan x="5526" dy="14.6">0.73%</tspan><tspan x="5526" dy="14.6">(0.48%)</tspan><tspan x="5526" dy="14.6">421353×</tspan></text></g>
<g id="n_sum" class="n"><rect x="5652" y="1106" width="221" height="70.5" class="f20"/><text x="5762.5" y="1123.8">~:0:&lt;built-in method builtins.sum&gt;<tspan x="5762.5" dy="14.6">19.91%</tspan><tspan x="5762.5" dy="14.6">(7.35%)</tspan><tspan x="5762.5" dy="14.6">1512927×</tspan></text></g>
<g id="n_fromlist" class="n"><rect x="1239" y="1229" width="244" height="70.5" class="f10"/><text x="1361" y="1246.8">&lt;frozen importlib:997:_handle_fromlist&gt;<tspan x="1361" dy="14.6">10.07%</tspan><tspan x="1361" dy="14.6">(0.01%)</tspan><tspan x="1361" dy="14.6">912×</tspan></text></g>
<g id="n_pathstat" class="n"><rect x="2402" y="1229" width="203" height="70.5" class="f1"/><text x="2503.5" y="1246.8">&lt;frozen importlib:75:_path_stat&gt;<tspan x="2503.5" dy="14.6">1.31%</tspan><tspan x="2503.5" dy="14.6">(0.00%)</tspan><tspan x="2503.5" dy="14.6">646×</tspan></text></g>
<g id="n_notify" class="n"><rect x="3278" y="1229" width="137" height="70.5" class="f1"/><text x="3346.5" y="1246.8">threading:334:notify<tspan x="3346.5" dy="14.6">1.44%</tspan><tspan x="3346.5" dy="14.6">(0.85%)</tspan><tspan x="3346.5" dy="14.6">187687×</tspan></text></g>
<g id="n_enter" class="n"><rect x="3460" y="1229" width="162" height="70.5" class="f0"/><text x="3541" y="1246.8">threading:239:__enter__<tspan x="3541" dy="14.6">0.52%</tspan><tspan x="3541" dy="14.6">(0.34%)</tspan><tspan x="3541" dy="14.6">187687×</tspan></text></g>
<g id="n_isinstance" class="n"><rect x="4942" y="1229" width="256" height="70.5" class="f6"/><text x="5070" y="1246.8">~:0:&lt;built-in method builtins.isinstance&gt;<tspan x="5070" dy="14.6">6.59%</tspan><tspan x="5070" dy="14.6">(6.59%)</tspan><tspan x="5070" dy="14.6">11413815×</tspan></text></g>
<g id="n_l141" class="n"><rect x="5349" y="1229" width="176" height="70.5" class="f3"/><text x="5437" y="1246.8">sudo_solve:141:&lt;lambda&gt;<tspan x="5437" dy="14.6">3.24%</tspan><tspan x="5437" dy="14.6">(1.94%)</tspan><tspan x="5437" dy="14.6">2261273×</tspan></text></g>
<g id="n_l155" class="n"><rect x="5536" y="1229" width="176" height="70.5" class="f3"/><text x="5624" y="1246.8">sudo_solve:155:&lt;lambda&gt;<tspan x="5624" dy="14.6">2.80%</tspan><tspan x="5624" dy="14.6">(1.65%)</tspan><tspan x="5624" dy="14.6">1968693×</tspan></text></g>
<g id="n_l129" class="n"><rect x="5723" y="1229" width="176" height="70.5" class="f6"/><text x="5811" y="1246.8">sudo_solve:129:&lt;lambda&gt;<tspan x="5811" dy="14.6">6.51%</tspan><tspan x="5811" dy="14.6">(3.85%)</tspan><tspan x="5811" dy="14.6">4485982×</tspan></text></g>
<g id="n_posix" class="n"><rect x="2400" y="1351.5" width="208" height="70.5" class="f1"/><text x="2504" y="1369.3">~:0:&lt;built-in method posix.stat&gt;<tspan x="2504" dy="14.6">1.31%</tspan><tspan x="2504" dy="14.6">(1.31%)</tspan><tspan x="2504" dy="14.6">646×</tspan></text></g>
<g id="n_isowned" class="n"><rect x="3263" y="1351.5" width="166" height="70.5" class="f0"/><text x="3346" y="1369.3">threading:254:_is_owned<tspan x="3346" dy="14.6">0.60%</tspan><tspan x="3346" dy="14.6">(0.33%)</tspan><tspan x="3346" dy="14.6">187687×</tspan></text></g>
<g id="n_count" class="n"><rect x="5322" y="1351.5" width="230" height="70.5" class="f6"/><text x="5437" y="1369.3">~:0:&lt;method 'count' of 'list' objects&gt;<tspan x="5437" dy="14.6">6.18%</tspan><tspan x="5437" dy="14.6">(6.18%)</tspan><tspan x="5437" dy="14.6">10213017×</tspan></text></g>
</g>
</g>
</svg>
